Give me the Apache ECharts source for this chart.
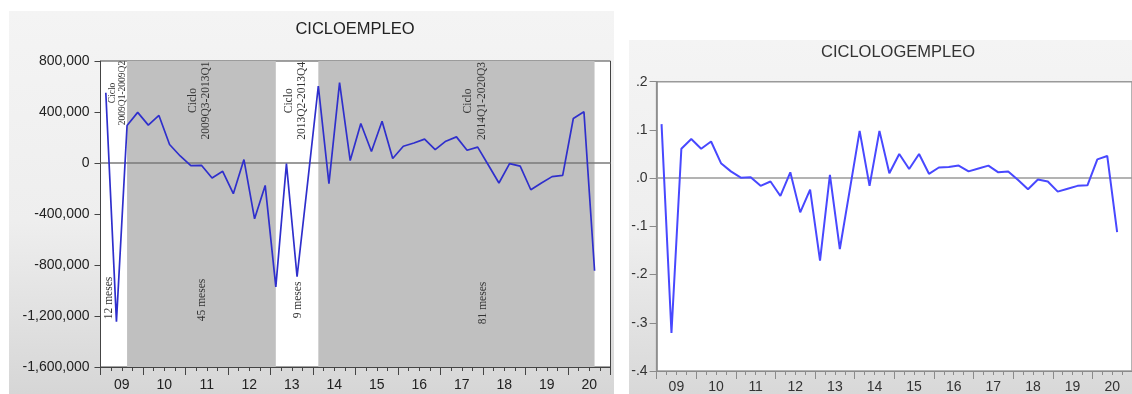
<!DOCTYPE html>
<html><head><meta charset="utf-8">
<script src="https://cdn.jsdelivr.net/npm/echarts@6/dist/echarts.min.js"></script>
<style>html,body{margin:0;padding:0;background:#fff}#c{width:1132px;height:394px}</style>
</head><body><div id="c"></div>
<script>
// ---- data ----
const yearLabels = ['09','10','11','12','13','14','15','16','17','18','19','20'];
const quarters = [];
for (let y = 2009; y <= 2020; y++) for (let q = 1; q <= 4; q++) quarters.push(y + 'Q' + q);

const cicloEmpleo = [551000, -1244000, 294000, 397000, 297000, 373000, 145000, 55000,
  -20000, -18000, -118000, -65000, -241000, 27000, -438000, -176000,
  -971000, -5000, -892000, -150000, 604000, -162000, 630000, 19000,
  310000, 90000, 328000, 35000, 131000, 157000, 187000, 105000,
  171000, 205000, 100000, 125000, -16000, -157000, -5000, -24000,
  -210000, -157000, -107000, -97000, 349000, 402000, -845000, null];

const cicloLogEmpleo = [0.112, -0.321, 0.061, 0.081, 0.061, 0.076, 0.031, 0.014,
  0.001, 0.002, -0.016, -0.007, -0.037, 0.012, -0.071, -0.024,
  -0.171, 0.007, -0.147, -0.025, 0.098, -0.016, 0.098, 0.010,
  0.050, 0.019, 0.050, 0.009, 0.022, 0.023, 0.026, 0.014,
  0.020, 0.026, 0.012, 0.014, -0.004, -0.023, -0.003, -0.007,
  -0.028, -0.022, -0.016, -0.015, 0.039, 0.046, -0.112, null];

const cycles = [['2009Q3','2013Q1'], ['2014Q1','2020Q3']];
const cycleNotes = ['Ciclo\n2009Q1-2009Q2', 'Ciclo\n2009Q3-2013Q1', 'Ciclo\n2013Q2-2013Q4', 'Ciclo\n2014Q1-2020Q3'];
const durationNotes = ['12 meses', '45 meses', '9 meses', '81 meses'];

// ---- chart ----
const chart = echarts.init(document.getElementById('c'), null, {renderer: 'canvas'});
const sans = 'Liberation Sans, Arial, sans-serif';
const serif = 'Liberation Serif, Times New Roman, serif';

function commaFmt(v) { return String(v).replace(/\B(?=(\d{3})+(?!\d))/g, ','); }
function dotFmt(v) { return v.toFixed(1).replace('0.', '.'); }

function quarterAxis(grid, color) {
  return {
    type: 'category', gridIndex: grid, data: quarters, position: 'bottom', boundaryGap: true,
    axisLine: {show: true, onZero: false, lineStyle: {color: color, width: 1}},
    axisTick: {show: true, interval: 0, length: 4, lineStyle: {color: color}},
    axisLabel: {show: false}, splitLine: {show: false}
  };
}
function yearAxis(grid, color, margin, labelColor) {
  return {
    type: 'category', gridIndex: grid, data: yearLabels, position: 'bottom', boundaryGap: true,
    axisLine: {show: false, onZero: false},
    axisTick: {show: true, interval: 0, length: 8, lineStyle: {color: color}},
    axisLabel: {show: true, interval: 0, margin: margin, color: labelColor, fontSize: 14, fontFamily: sans},
    splitLine: {show: false}
  };
}

const noteGraphics = [];
const cyclePos = [[117.7, 93, 9.5, 10.5], [199.7, 100.5, 11.5, 13.3], [295.8, 100.8, 11.5, 13.3], [475, 101, 11.5, 13.3]];
cycleNotes.forEach((t, i) => {
  const p = cyclePos[i];
  noteGraphics.push({type: 'text', x: p[0], y: p[1], rotation: Math.PI / 2, z: 100,
    style: {text: t, fontSize: p[2], fontFamily: serif, fill: '#333', align: 'center', verticalAlign: 'middle', lineHeight: p[3]}});
});
const durPos = [[108.7, 298], [202.3, 300], [298.3, 300], [482.7, 303]];
durationNotes.forEach((t, i) => {
  const p = durPos[i];
  noteGraphics.push({type: 'text', x: p[0], y: p[1], rotation: Math.PI / 2, z: 100,
    style: {text: t, fontSize: 11.5, fontFamily: serif, fill: '#333', align: 'center', verticalAlign: 'middle'}});
});

const option = {
  backgroundColor: '#ffffff',
  animation: false,
  graphic: [
    {type: 'rect', z: -10, shape: {x: 9, y: 11, width: 605, height: 383},
      style: {fill: new echarts.graphic.LinearGradient(0, 0, 0, 1, [
        {offset: 0, color: '#f4f4f4'}, {offset: 0.55, color: '#eeeeee'}, {offset: 1, color: '#d6d6d6'}])}},
    {type: 'rect', z: -10, shape: {x: 629, y: 40, width: 503, height: 354},
      style: {fill: new echarts.graphic.LinearGradient(0, 0, 0, 1, [
        {offset: 0, color: '#f4f4f4'}, {offset: 0.55, color: '#eeeeee'}, {offset: 1, color: '#d8d8d8'}])}},
    {type: 'text', x: 355, y: 29, z: 100,
      style: {text: 'CICLOEMPLEO', fontSize: 16.5, fontFamily: sans, fill: '#222', align: 'center', verticalAlign: 'middle'}},
    {type: 'text', x: 898, y: 52, z: 100,
      style: {text: 'CICLOLOGEMPLEO', fontSize: 16.5, fontFamily: sans, fill: '#333', align: 'center', verticalAlign: 'middle'}},
    ...noteGraphics
  ],
  grid: [
    {left: 100.5, top: 61, width: 510, height: 306, show: true, backgroundColor: '#ffffff', borderColor: '#444', borderWidth: 1},
    {left: 656.6, top: 81.7, width: 483, height: 290, show: true, backgroundColor: '#ffffff', borderColor: '#9a9a9a', borderWidth: 1.5}
  ],
  xAxis: [
    quarterAxis(0, '#444'),
    yearAxis(0, '#444', 11, '#222'),
    quarterAxis(1, '#8a8a8a'),
    yearAxis(1, '#8a8a8a', 9, '#333')
  ],
  yAxis: [
    {type: 'value', gridIndex: 0, position: 'left', min: -1600000, max: 800000, interval: 400000,
      axisLine: {show: true, lineStyle: {color: '#444'}},
      axisTick: {show: true, length: 6, lineStyle: {color: '#444'}},
      axisLabel: {margin: 11, color: '#222', fontSize: 14, fontFamily: sans, formatter: commaFmt},
      splitLine: {show: false}},
    {type: 'value', gridIndex: 1, position: 'left', min: -0.4, max: 0.2, interval: 0.1,
      axisLine: {show: true, lineStyle: {color: '#8a8a8a', width: 1.5}},
      axisTick: {show: true, length: 7, lineStyle: {color: '#8a8a8a'}},
      axisLabel: {margin: 9, color: '#333', fontSize: 14, fontFamily: sans, formatter: dotFmt},
      splitLine: {show: false}}
  ],
  series: [
    {type: 'line', xAxisIndex: 0, yAxisIndex: 0, data: cicloEmpleo, showSymbol: false, symbol: 'none',
      lineStyle: {color: '#2f2fcc', width: 1.7}, z: 3,
      markArea: {silent: true, z: 1, itemStyle: {color: '#c0c0c0'},
        data: cycles.map(c => [{xAxis: c[0]}, {xAxis: c[1]}])},
      markLine: {silent: true, symbol: 'none', label: {show: false}, z: 2,
        lineStyle: {color: '#7a7a7a', width: 1.5, type: 'solid'}, data: [{yAxis: 0}]}},
    {type: 'line', xAxisIndex: 2, yAxisIndex: 1, data: cicloLogEmpleo, showSymbol: false, symbol: 'none',
      lineStyle: {color: '#4848ff', width: 2}, z: 3,
      markLine: {silent: true, symbol: 'none', label: {show: false}, z: 2,
        lineStyle: {color: '#9a9a9a', width: 1.5, type: 'solid'}, data: [{yAxis: 0}]}}
  ]
};
chart.setOption(option);
</script>
</body></html>
